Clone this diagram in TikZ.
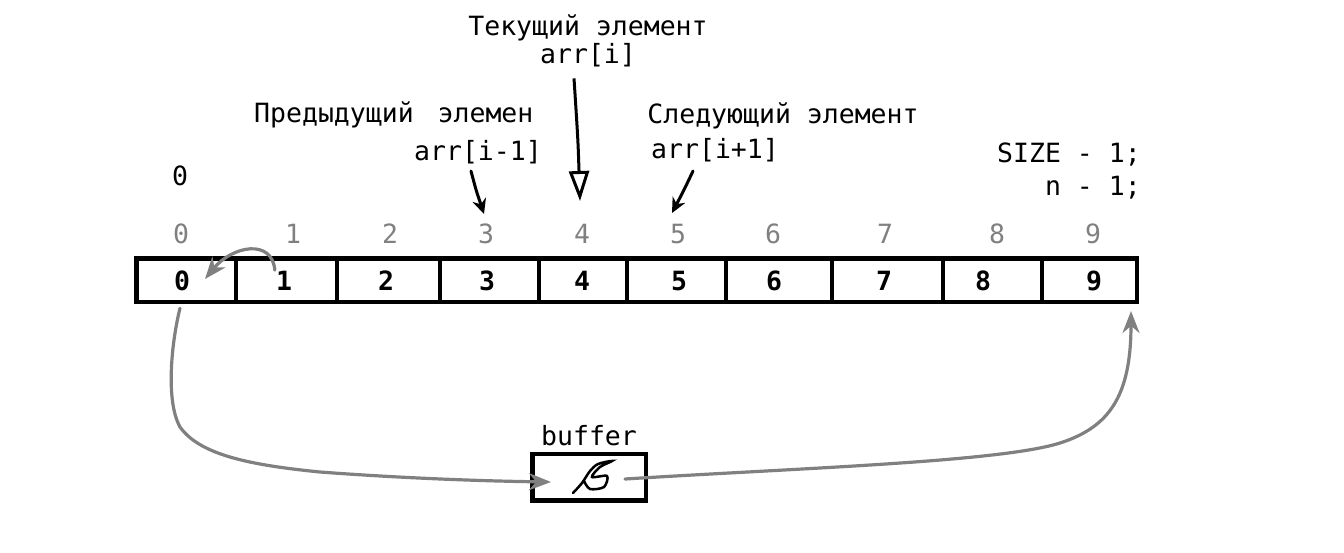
\documentclass[tikz,border=0pt]{standalone}
\usepackage{fontspec}
\setmonofont{DejaVu Sans Mono}
\usetikzlibrary{arrows.meta,positioning}
\definecolor{idxgray}{RGB}{128,128,128}
\newcommand{\codefont}{\ttfamily\fontsize{26.5}{30}\selectfont}

\begin{document}
\begin{tikzpicture}[x=1pt,y=-1pt,
    every node/.style={font=\codefont, inner sep=1pt},
    val/.style={font=\codefont\bfseries},
    idx/.style={text=idxgray},
    cellbox/.style={draw, line width=4.5pt},
    ptr/.style={-{Stealth[length=15pt,width=14pt]}, line width=3pt, line cap=round},
    move/.style={draw=idxgray, line width=3.2pt, line cap=round, -{Stealth[length=22pt,width=17pt]}}]
  \useasboundingbox (0,0) rectangle (1344,552);

  \node (cur) at (588,28) {Текущий элемент};
  \node[below=0pt of cur] (curidx) {arr[i]};
  \node[anchor=west] (prev) at (253,115) {Предыдущий\hspace{8pt} элемен};
  \node[anchor=east] (previdx) at (543,152) {arr[i-1]};
  \node (next) at (783,116) {Следующий элемент};
  \node[anchor=west] (nextidx) at (650,150) {arr[i+1]};
  \node[anchor=east] (size) at (1142,155) {SIZE - 1;};
  \node[anchor=east] (nlast) at (1142,188) {n - 1;};
  \node (first) at (180,176) {0};

  \draw[cellbox] (136.5,258.5) rectangle (1137,302);
  \foreach \x in {236,337,440,539,627,726,832,943,1042}
    \draw[cellbox] (\x,258.5) -- (\x,302);
  \foreach \i/\x in {0/182,1/284,2/386,3/487,4/582,5/679,6/774,7/884,8/983,9/1094}
    \node[val] (v\i) at (\x,281) {\i};
  \foreach \i/\x in {0/181,1/293,2/390,3/486,4/582,5/678,6/773,7/885,8/997,9/1093}
    \node[idx] (n\i) at (\x,234) {\i};

  \node[cellbox, minimum width=113.5pt, minimum height=46.5pt, inner sep=0pt] (buf) at (589,477) {};
  \node[above=4pt of buf] (buflabel) {buffer};
  \draw[line width=2.5pt, line cap=round] plot[smooth] coordinates {(573,493) (582,483) (590,471) (598,464) (612,461) (600,467) (592,477) (607,476) (604,487) (590,489) (584,481)};

  \coordinate (tipcur) at (580,201);
  \coordinate (tipprev) at (484,214);
  \coordinate (tipnext) at (672,213);
  \coordinate (back0) at (205,279);
  \coordinate (tip9) at (1131,311);

  \draw[line width=3pt, -{Triangle[open,length=30pt,width=20pt]}] ([shift={(-14,10)}]curidx.south) .. controls (578,140) .. (tipcur);
  \draw[ptr] ([shift={(-7,6)}]previdx.south) .. controls (476,190) .. (tipprev);
  \draw[ptr] ([shift={(-22,8)}]nextidx.south) .. controls (684,190) .. (tipnext);

  \draw[move] (v1.north west) .. controls (272,238) and (232,246) .. (back0);
  \draw[move] ([shift={(-2,16)}]v0.south) .. controls (172,340) and (165,400) .. (180,427)
    .. controls (200,455) and (250,465) .. (320,472)
    .. controls (400,478) and (480,481) .. ([shift={(21,5)}]buf.west);
  \draw[move] ([shift={(36,2)}]buf.center) .. controls (800,468) and (1000,462) .. (1060,443)
    .. controls (1110,427) and (1131,395) .. (tip9);
\end{tikzpicture}
\end{document}
